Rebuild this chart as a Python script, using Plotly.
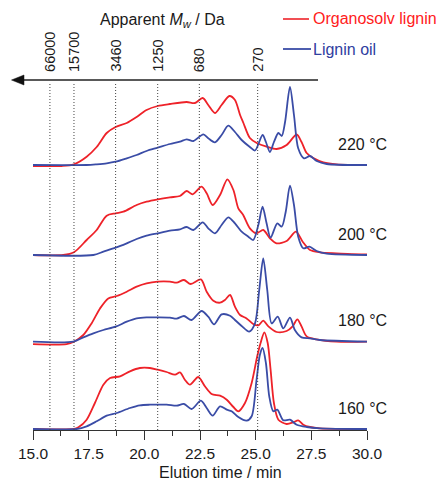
import plotly.graph_objects as go

# ---------------- data ----------------
temps = ["220 °C", "200 °C", "180 °C", "160 °C"]
offsets = [265, 175, 88.3, 1.0]

t_red_220 = [15.0, 16.3, 16.84, 17.41, 17.86, 18.31, 18.71, 19.21, 19.655, 20.10, 20.60, 21.15, 21.90, 22.27, 22.62, 22.87, 23.17, 23.47, 23.82, 24.07, 24.30, 24.45, 24.74, 25.05, 25.49, 25.94, 26.39, 26.84, 27.06, 27.29, 27.59, 28.04, 28.64, 30.0]
i_red_220 = [-1, -1, 0.7, 8.3, 18, 32, 38, 42, 48, 55, 59, 61, 63, 62, 67, 60, 52, 60, 69, 65, 50, 42, 27, 22, 18.3, 16, 20, 30.5, 23, 12, 7, 2.7, 0.7, 0]

t_blue_220 = [15.0, 17.41, 17.86, 18.31, 18.71, 19.21, 19.655, 20.10, 20.60, 21.15, 21.60, 21.90, 22.20, 22.65, 22.87, 23.17, 23.47, 23.77, 24.07, 24.37, 24.74, 24.97, 25.31, 25.46, 25.64, 25.82, 26.02, 26.17, 26.32, 26.54, 26.72, 26.91, 27.17, 27.44, 27.74, 28.19, 30.0]
i_blue_220 = [0, 0, 0.7, 1.7, 3.3, 6.7, 10, 14, 17.3, 21, 23.3, 25.7, 24, 30.7, 26.7, 22.7, 30, 39.3, 33, 25, 18, 14.5, 30, 23, 13, 23, 32, 29, 43, 78, 50, 16.7, 6.7, 9, 4, 1, 0]

t_red_200 = [15.0, 16.36, 16.84, 17.41, 17.86, 18.31, 18.71, 19.06, 19.655, 20.10, 20.60, 21.15, 21.60, 21.90, 22.17, 22.57, 22.80, 23.07, 23.40, 23.73, 24.00, 24.22, 24.44, 24.74, 25.04, 25.34, 25.64, 25.94, 26.39, 26.81, 27.11, 27.44, 27.89, 28.63, 30.0]
i_red_200 = [0, 0, 2.7, 15, 25, 39.3, 41.7, 43.3, 50, 53.3, 55.7, 57.7, 59, 64, 60.7, 68.3, 61.7, 50, 60, 75.7, 65, 46.7, 40, 26.7, 21.7, 25, 16.7, 11.7, 14, 23.3, 13.3, 5, 2.7, 1.7, 0.5]

t_blue_200 = [15.0, 17.71, 18.16, 18.71, 19.21, 19.655, 20.10, 20.60, 21.15, 21.60, 21.90, 22.20, 22.62, 22.87, 23.17, 23.47, 23.77, 24.07, 24.37, 24.67, 24.89, 25.12, 25.31, 25.49, 25.67, 25.97, 26.17, 26.35, 26.54, 26.72, 26.91, 27.14, 27.41, 27.74, 28.19, 30.0]
i_blue_200 = [0, 0, 3.3, 7.3, 11.7, 16, 19.3, 21.7, 24.3, 25.7, 28, 25, 32.7, 26.7, 21.7, 30, 37.7, 31.7, 23.3, 18.3, 15, 30, 48.3, 31.7, 17.3, 31.7, 28.3, 43.3, 69.3, 50, 18.3, 6.7, 8.3, 4, 1.3, 0]

t_red_180 = [15.0, 16.51, 16.84, 17.26, 17.63, 18.01, 18.38, 18.76, 19.21, 19.655, 20.10, 20.60, 21.15, 21.45, 21.78, 22.08, 22.54, 22.80, 23.10, 23.40, 23.62, 23.85, 24.07, 24.30, 24.59, 24.89, 25.12, 25.34, 25.57, 25.94, 26.39, 26.66, 26.87, 27.06, 27.29, 27.74, 28.63, 30.0]
i_red_180 = [-2.5, -2.5, 0, 6.7, 18.3, 33.3, 43.3, 45.7, 50, 55, 58.3, 60, 60, 59, 61.7, 57.7, 62.3, 50, 41, 39, 41.7, 46.7, 35, 26.7, 23.3, 17.7, 16.3, 21, 15.3, 9.7, 10.7, 15.3, 22.3, 15.3, 5.3, 2.3, 0, 0]

t_blue_180 = [15.0, 16.81, 17.26, 17.71, 18.16, 18.71, 19.21, 19.655, 20.10, 20.60, 21.15, 21.45, 21.78, 22.12, 22.57, 22.87, 23.13, 23.47, 23.85, 24.07, 24.37, 24.71, 24.97, 25.16, 25.34, 25.52, 25.72, 25.99, 26.24, 26.54, 26.76, 27.06, 27.44, 27.89, 30.0]
i_blue_180 = [0, 0, 4.3, 8.3, 11.7, 15, 20, 23.3, 24.3, 24.3, 24, 23, 25.7, 21.7, 30.7, 25, 17.3, 27.3, 26, 21.7, 15.7, 10, 18.3, 51.7, 83.3, 51.7, 18.3, 25, 13.3, 24, 11.7, 4.3, 3.3, 1.7, 0]

t_red_160 = [15.0, 16.84, 17.04, 17.41, 17.78, 18.16, 18.46, 18.91, 19.355, 19.80, 20.25, 20.60, 21.00, 21.38, 21.60, 21.82, 22.05, 22.42, 22.72, 23.02, 23.40, 23.70, 24.00, 24.22, 24.52, 24.82, 25.07, 25.22, 25.39, 25.54, 25.67, 25.82, 26.02, 26.39, 26.69, 26.91, 27.14, 27.44, 27.89, 30.0]
i_red_160 = [0, 0, 1.7, 9.3, 26, 44.3, 51, 52.7, 57.7, 61, 61, 59.3, 57, 54.3, 56.7, 49.3, 44.3, 52, 42.7, 35, 33.3, 29.3, 22, 17.7, 26, 46, 72.7, 86, 96.7, 86, 59.3, 26, 9.3, 5, 6.7, 8.7, 4.3, 2, 0.7, 0]

t_blue_160 = [15.0, 16.96, 17.41, 17.86, 18.31, 18.76, 19.355, 19.80, 20.25, 21.00, 21.45, 21.78, 22.12, 22.54, 22.80, 23.07, 23.40, 23.70, 23.92, 24.22, 24.59, 24.82, 25.04, 25.19, 25.31, 25.46, 25.61, 25.79, 25.97, 26.24, 26.54, 26.84, 27.29, 27.89, 30.0]
i_blue_160 = [0, 0, 2.7, 7.7, 13.3, 16, 21, 23.7, 24.3, 24.3, 23.3, 25, 20, 28.3, 21, 13.3, 22.7, 19.3, 17.7, 12, 8.3, 12.7, 49.3, 74.3, 81, 66, 32.7, 17.7, 19.3, 8.7, 9.3, 4.3, 2, 0.7, 0]

mw_times = [15.76, 16.84, 18.71, 20.60, 22.47, 25.09]
mw_labels = ["66000", "15700", "3460", "1250", "680", "270"]

series_names = ["Organosolv lignin", "Lignin oil"]
# ----------------------------------------------------------------

RED = "#ee2229"
BLUE = "#3a4ca6"
FONT = "Liberation Sans, Arial, sans-serif"
INK = "#1a1a1a"

red_sets = [(t_red_220, i_red_220), (t_red_200, i_red_200), (t_red_180, i_red_180), (t_red_160, i_red_160)]
blue_sets = [(t_blue_220, i_blue_220), (t_blue_200, i_blue_200), (t_blue_180, i_blue_180), (t_blue_160, i_blue_160)]

fig = go.Figure()
for k, off in enumerate(offsets):
    for (tt, ii), col, nm in ((red_sets[k], RED, series_names[0]), (blue_sets[k], BLUE, series_names[1])):
        fig.add_trace(go.Scatter(
            x=tt, y=[v + off for v in ii], mode="lines", name=nm,
            line=dict(color=col, width=1.8, shape="spline", smoothing=0.8),
            showlegend=False, hoverinfo="skip"))

# plot geometry helpers (plot area: x 33..367 px, y 80..430 px)
L, R, T, B = 33, 367, 80, 430
def px(xp):
    return (xp - L) / (R - L)
def py(yp):
    return (B - yp) / (B - T)

shapes = []
annotations = []

# dotted Mw reference lines
for t in mw_times:
    shapes.append(dict(type="line", xref="x", yref="paper", x0=t, x1=t, y0=0, y1=0.993,
                       line=dict(color="#444444", width=1, dash="1px,2px")))

# top arrow axis
shapes.append(dict(type="line", xref="paper", yref="paper", x0=px(20), x1=px(318), y0=1, y1=1,
                   line=dict(color="#222222", width=1.6)))
shapes.append(dict(type="path", xref="paper", yref="paper",
                   path=f"M {px(11.5)},{py(80)} L {px(24)},{py(75)} L {px(24)},{py(85)} Z",
                   fillcolor="#111111", line=dict(color="#111111", width=0.5)))

# Mw labels
for t, lab in zip(mw_times, mw_labels):
    annotations.append(dict(x=t, xref="x", y=py(74), yref="paper", text=lab, textangle=-90,
                            showarrow=False, xanchor="center", yanchor="bottom",
                            font=dict(family=FONT, size=14.5, color=INK)))

# top title
annotations.append(dict(x=px(162), y=py(20.5), xref="paper", yref="paper",
                        text="Apparent <i>M</i><sub><i>w</i></sub> / Da", showarrow=False,
                        xanchor="center", yanchor="middle", font=dict(family=FONT, size=16, color=INK)))

# legend (manual)
shapes.append(dict(type="line", xref="paper", yref="paper", x0=px(283), x1=px(309), y0=py(19), y1=py(19),
                   line=dict(color=RED, width=1.6)))
shapes.append(dict(type="line", xref="paper", yref="paper", x0=px(283), x1=px(311), y0=py(49), y1=py(49),
                   line=dict(color=BLUE, width=1.8)))
annotations.append(dict(x=px(311), y=py(19), xref="paper", yref="paper", text=series_names[0],
                        showarrow=False, xanchor="left", yanchor="middle",
                        font=dict(family=FONT, size=16, color="#ff2020")))
annotations.append(dict(x=px(311), y=py(49), xref="paper", yref="paper", text=series_names[1],
                        showarrow=False, xanchor="left", yanchor="middle",
                        font=dict(family=FONT, size=16, color="#2f40a0")))

# temperature labels
for lab, off in zip(temps, offsets):
    annotations.append(dict(x=28.6, xref="x", y=off + 21, yref="y", text=lab, showarrow=False,
                            xanchor="left", yanchor="middle", font=dict(family=FONT, size=16, color=INK)))

# x-axis title
annotations.append(dict(x=px(220), y=py(472), xref="paper", yref="paper", text="Elution time / min",
                        showarrow=False, xanchor="center", yanchor="middle",
                        font=dict(family=FONT, size=16, color=INK)))

fig.update_layout(
    width=443, height=484,
    margin=dict(l=L, r=443 - R, t=T, b=484 - B),
    paper_bgcolor="white", plot_bgcolor="white",
    showlegend=False,
    shapes=shapes, annotations=annotations,
    xaxis=dict(range=[15, 30], tick0=15, dtick=2.5, tickformat=".1f",
               ticks="outside", ticklen=9, tickwidth=1.3, tickcolor="#333333",
               showline=True, linecolor="#333333", linewidth=1.3,
               showgrid=False, zeroline=False,
               minor=dict(dtick=1.25, tick0=15, ticks="outside", ticklen=5, tickwidth=1.3,
                          tickcolor="#333333", showgrid=False),
               tickfont=dict(family=FONT, size=15.5, color=INK)),
    yaxis=dict(range=[0, 350], visible=False, fixedrange=True),
)

fig.write_html("out.html")
